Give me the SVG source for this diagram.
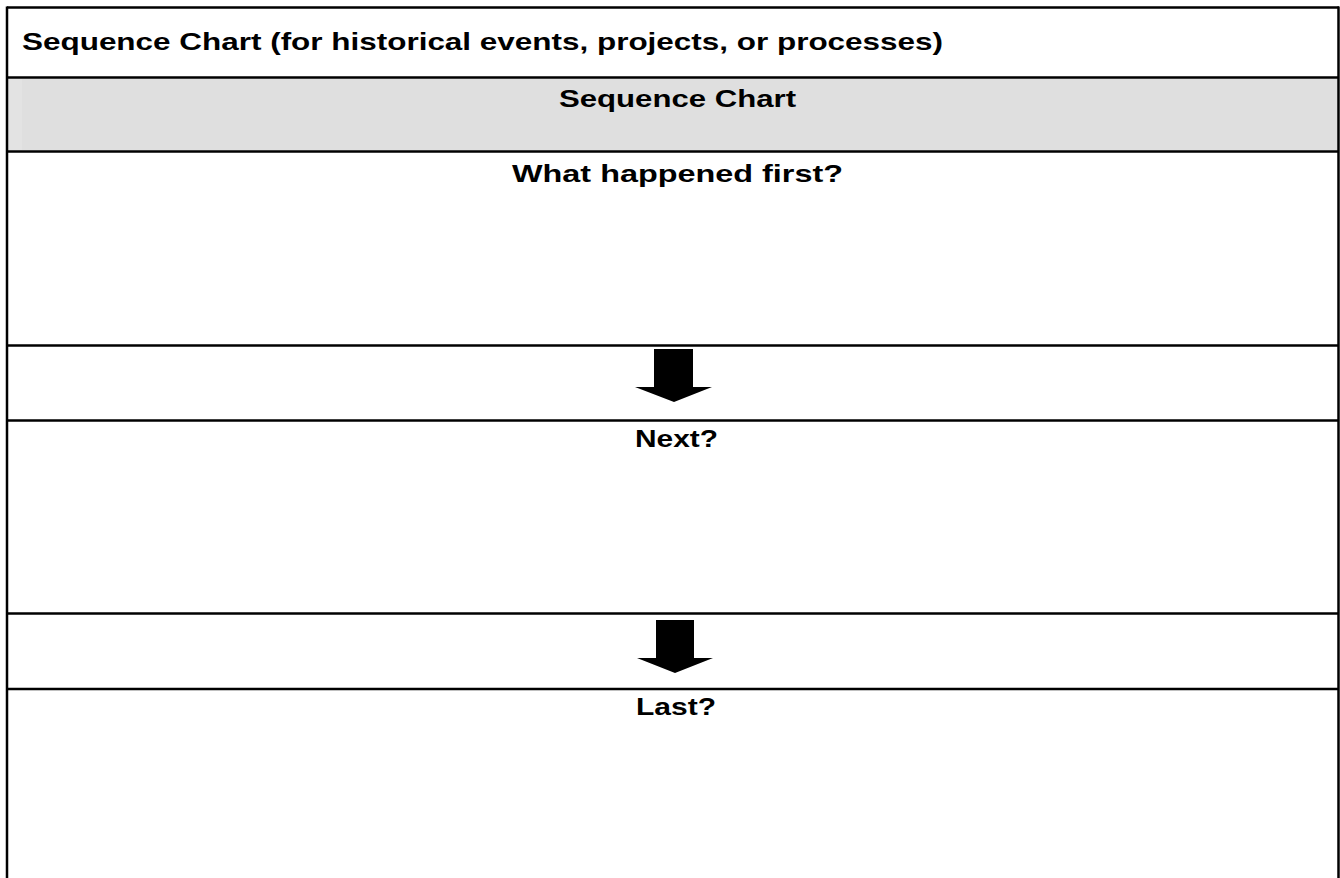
<svg xmlns="http://www.w3.org/2000/svg" width="1340" height="878" viewBox="0 0 1340 878">
  <style>
    .t { font-family: "Liberation Sans", Arial, sans-serif; font-weight: bold; font-size: 24px; fill: #000; }
    .ln { stroke: #000; stroke-width: 2.5; fill: none; }
    .arrow { fill: #000; stroke: none; }
  </style>
  <rect x="0" y="0" width="1340" height="878" fill="#fff"/>
  <g id="title-row">
    <text class="t" x="22" y="50" textLength="921" lengthAdjust="spacingAndGlyphs">Sequence Chart (for historical events, projects, or processes)</text>
  </g>
  <g id="heading-row">
    <rect x="8" y="78.5" width="1330" height="72" fill="#dfdfdf"/>
    <rect x="8" y="78.5" width="14" height="72" fill="#e3e3e3"/>
    <text class="t" x="559" y="107" textLength="237" lengthAdjust="spacingAndGlyphs">Sequence Chart</text>
  </g>
  <g id="first">
    <text class="t" x="512" y="182" textLength="331" lengthAdjust="spacingAndGlyphs">What happened first?</text>
  </g>
  <g id="next">
    <text class="t" x="635" y="447" textLength="83" lengthAdjust="spacingAndGlyphs">Next?</text>
  </g>
  <g id="last">
    <text class="t" x="636" y="715" textLength="80" lengthAdjust="spacingAndGlyphs">Last?</text>
  </g>
  <g id="grid">
    <line class="ln" x1="7" y1="7.5" x2="1339" y2="7.5"/>
    <line class="ln" x1="7" y1="77.5" x2="1339" y2="77.5"/>
    <line class="ln" x1="7" y1="151.5" x2="1339" y2="151.5"/>
    <line class="ln" x1="7" y1="345.5" x2="1339" y2="345.5"/>
    <line class="ln" x1="7" y1="420.5" x2="1339" y2="420.5"/>
    <line class="ln" x1="7" y1="613.5" x2="1339" y2="613.5"/>
    <line class="ln" x1="7" y1="689" x2="1339" y2="689"/>
    <line class="ln" x1="7" y1="6.5" x2="7" y2="878"/>
    <line class="ln" x1="1338.5" y1="6.5" x2="1338.5" y2="878"/>
  </g>
  <g id="connectors">
    <polygon class="arrow" points="654,349 693,349 693,387 712,387 674,402 635,387 654,387"/>
    <polygon class="arrow" points="656,620 694,620 694,658 713,658 675,673 637,658 656,658"/>
  </g>
</svg>
